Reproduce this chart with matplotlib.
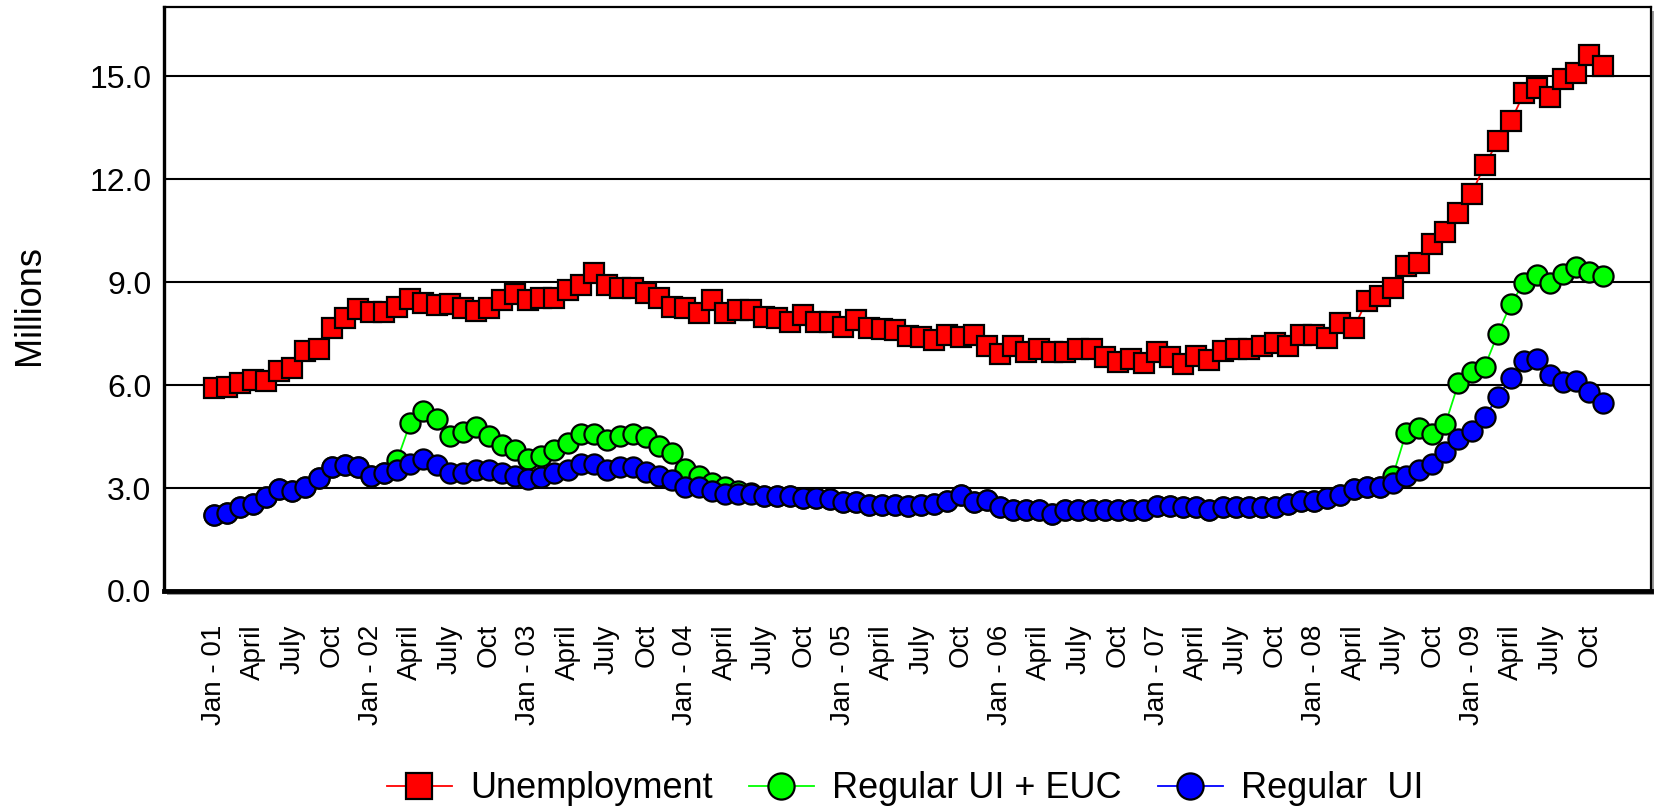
import numpy as np
import matplotlib.pyplot as plt
from matplotlib.patches import Rectangle

plt.rcParams["font.family"] = ["Liberation Sans", "DejaVu Sans"]

# monthly figures in millions, Jan 2001 - Nov 2009
unemployment = [
    5.90, 5.93, 6.06, 6.15, 6.13, 6.42, 6.49, 6.98, 7.06, 7.65, 7.94, 8.22,
    8.12, 8.12, 8.28, 8.50, 8.38, 8.33, 8.35, 8.24, 8.16, 8.24, 8.48, 8.65,
    8.48, 8.53, 8.53, 8.77, 8.92, 9.26, 8.92, 8.84, 8.82, 8.68, 8.53, 8.28,
    8.24, 8.09, 8.48, 8.09, 8.19, 8.19, 7.99, 7.94, 7.84, 8.04, 7.84, 7.84,
    7.70, 7.89, 7.65, 7.63, 7.60, 7.42, 7.39, 7.30, 7.45, 7.40, 7.45, 7.14,
    6.91, 7.14, 6.96, 7.06, 6.96, 6.96, 7.06, 7.06, 6.81, 6.67, 6.75, 6.65,
    6.96, 6.81, 6.62, 6.84, 6.72, 6.98, 7.06, 7.06, 7.14, 7.21, 7.14, 7.47,
    7.45, 7.37, 7.80, 7.65, 8.45, 8.60, 8.84, 9.48, 9.56, 10.12, 10.46, 11.02,
    11.57, 12.40, 13.10, 13.68, 14.50, 14.65, 14.40, 14.90, 15.08, 15.62, 15.29,
]

regular_ui_euc = [
    2.21, 2.27, 2.45, 2.53, 2.73, 2.96, 2.92, 3.04, 3.28, 3.60, 3.68, 3.60,
    3.35, 3.43, 3.82, 4.90, 5.25, 5.00, 4.51, 4.63, 4.78, 4.51, 4.26, 4.10,
    3.84, 3.94, 4.10, 4.31, 4.56, 4.56, 4.41, 4.51, 4.56, 4.49, 4.22, 4.02,
    3.55, 3.35, 3.16, 3.04, 2.92, 2.85, 2.76, 2.76, 2.76, 2.70, 2.70, 2.67,
    2.60, 2.60, 2.50, 2.50, 2.50, 2.48, 2.50, 2.53, 2.63, 2.79, 2.60, 2.65,
    2.45, 2.37, 2.37, 2.37, 2.25, 2.37, 2.37, 2.37, 2.37, 2.37, 2.37, 2.37,
    2.47, 2.47, 2.45, 2.45, 2.37, 2.45, 2.45, 2.45, 2.45, 2.45, 2.53, 2.63,
    2.63, 2.70, 2.80, 2.97, 3.04, 3.03, 3.36, 4.60, 4.76, 4.58, 4.86, 6.05,
    6.37, 6.53, 7.48, 8.37, 8.97, 9.21, 8.96, 9.22, 9.45, 9.29, 9.19,
]

regular_ui = [
    2.21, 2.27, 2.45, 2.53, 2.73, 2.96, 2.92, 3.04, 3.28, 3.60, 3.68, 3.60,
    3.35, 3.43, 3.53, 3.70, 3.85, 3.68, 3.43, 3.43, 3.53, 3.53, 3.43, 3.35,
    3.25, 3.33, 3.43, 3.53, 3.71, 3.71, 3.53, 3.61, 3.61, 3.48, 3.36, 3.22,
    3.02, 3.02, 2.92, 2.84, 2.84, 2.82, 2.76, 2.76, 2.76, 2.70, 2.70, 2.67,
    2.60, 2.60, 2.50, 2.50, 2.50, 2.48, 2.50, 2.53, 2.63, 2.79, 2.60, 2.65,
    2.45, 2.37, 2.37, 2.37, 2.25, 2.37, 2.37, 2.37, 2.37, 2.37, 2.37, 2.37,
    2.47, 2.47, 2.45, 2.45, 2.37, 2.45, 2.45, 2.45, 2.45, 2.45, 2.53, 2.63,
    2.63, 2.70, 2.80, 2.97, 3.04, 3.03, 3.14, 3.36, 3.53, 3.70, 4.04, 4.42,
    4.66, 5.08, 5.64, 6.21, 6.70, 6.77, 6.28, 6.10, 6.12, 5.80, 5.48,
]

# quarterly category labels
tick_labels = []
for yy in range(1, 10):
    tick_labels += ["Jan - %02d" % yy, "April", "July", "Oct"]
y_ticks = [0, 3, 6, 9, 12, 15]

x = np.arange(len(unemployment))

fig = plt.figure(figsize=(16.63, 8.09), dpi=100)
ax = fig.add_axes([164 / 1663, 1 - 591 / 809, 1487 / 1663, 583.6 / 809])
ax.set_zorder(1)

# drop shadow behind the plot area
shadow = Rectangle((167, 809 - 595), 1487, 583.6, transform=None,
                   facecolor="#9a9a9a", edgecolor="none", zorder=-1)
fig.patches.append(shadow)

for yv in y_ticks[1:]:
    ax.axhline(yv, color="black", lw=1.5, zorder=1)

common = dict(markeredgecolor="black", markeredgewidth=1.6, lw=1.3, zorder=3)
ax.plot(x, unemployment, color="#ff0000", marker="s", markersize=14,
        markerfacecolor="#ff0000", label="Unemployment", **common)
ax.plot(x, regular_ui_euc, color="#00ff00", marker="o", markersize=14.5,
        markerfacecolor="#00ff00", label="Regular UI + EUC", **common)
ax.plot(x, regular_ui, color="#0000ff", marker="o", markersize=14.5,
        markerfacecolor="#0000ff", label="Regular  UI", **common)

ax.set_xlim(-3.8, 109.7)
ax.set_ylim(0, 17)
ax.set_yticks(y_ticks)
ax.set_yticklabels(["%.1f" % v for v in y_ticks], fontsize=23)
ax.set_xticks(x[::3])
ax.set_xticklabels(tick_labels, rotation=90, fontsize=20, va="top")
ax.tick_params(axis="x", length=0, pad=24)
ax.tick_params(axis="y", length=0, pad=9)

for side in ["top", "right"]:
    ax.spines[side].set_linewidth(1.6)
ax.spines["left"].set_linewidth(2.4)
ax.spines["bottom"].set_linewidth(3.5)

fig.text(30 / 1663, 1 - 305 / 809, "Millions", rotation=90,
         ha="center", va="center", fontsize=26)

fig.legend(loc="center", bbox_to_anchor=(905 / 1663, 1 - 789 / 809), ncol=3,
           frameon=False, fontsize=26, handlelength=1.8, handletextpad=0.5,
           columnspacing=1.0, borderaxespad=0, markerscale=1.3)

fig.savefig("out.png", dpi=100)
